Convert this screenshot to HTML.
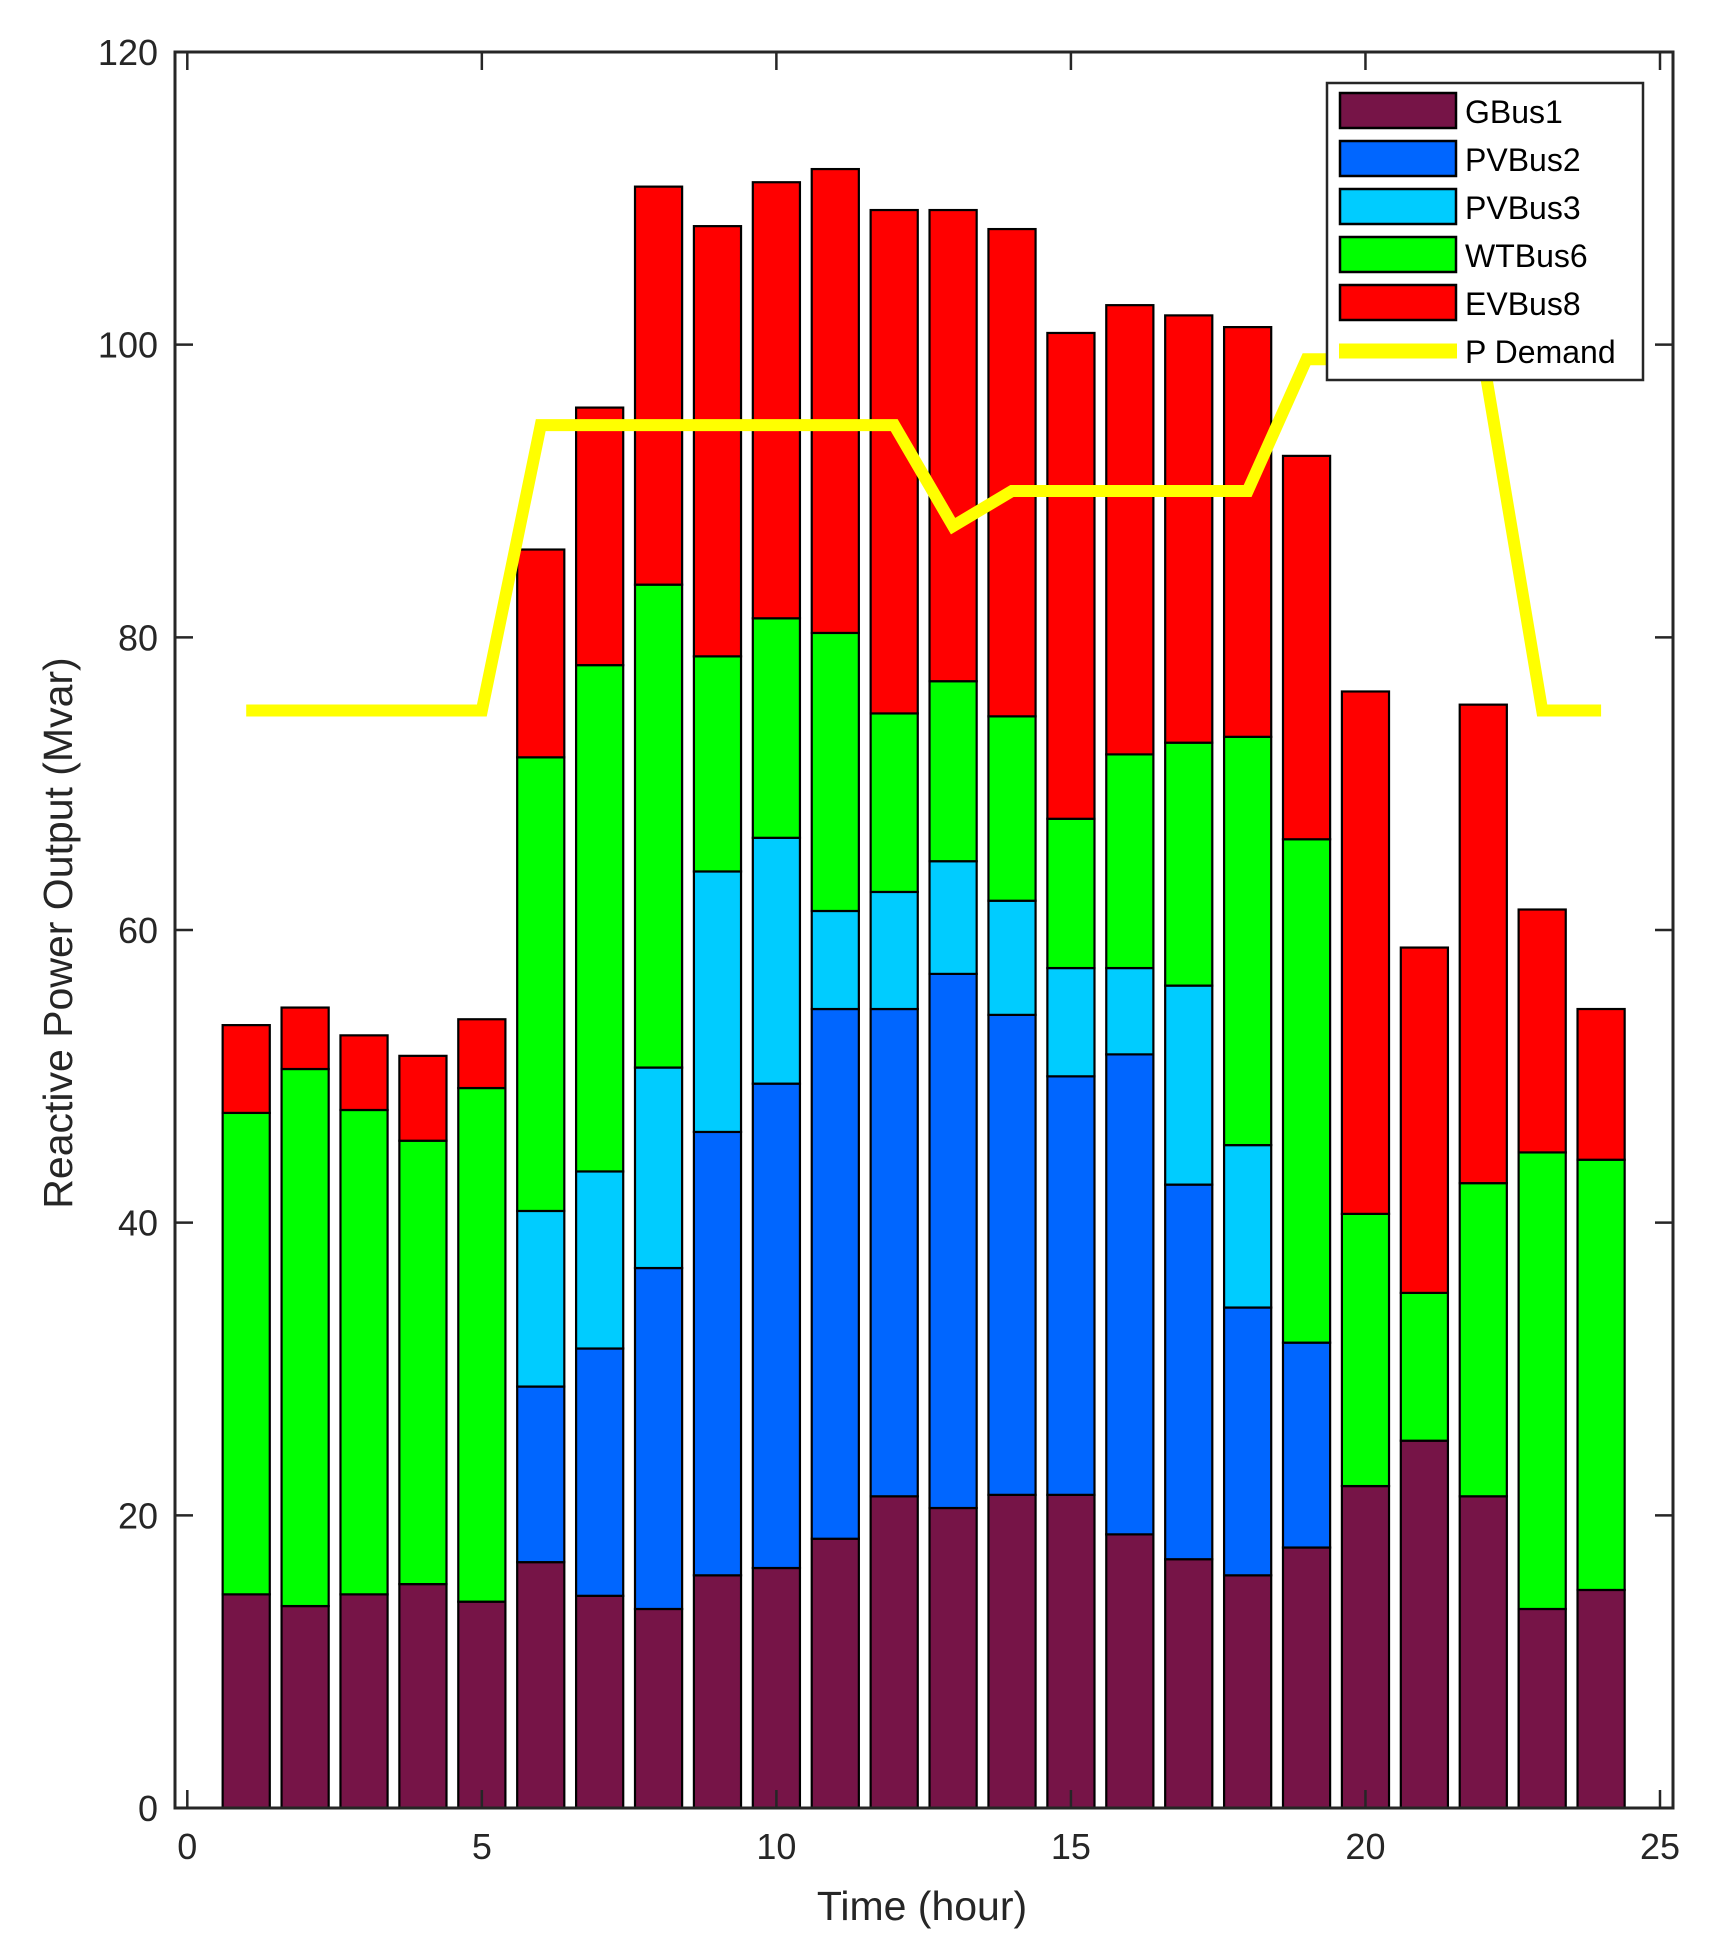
<!DOCTYPE html>
<html><head><meta charset="utf-8"><style>
html,body{margin:0;padding:0;background:#fff;}
svg{display:block;font-family:"Liberation Sans",Arial,sans-serif;}
</style></head><body>
<svg id="chart" width="1717" height="1949" viewBox="0 0 1717 1949" xmlns="http://www.w3.org/2000/svg">
<rect x="0" y="0" width="1717" height="1949" fill="#fff"/>
<g id="bars"></g>
<g id="line"></g>
<g id="axes"></g>
<g id="legend"></g>
</svg>
<script>
const hours = [1,2,3,4,5,6,7,8,9,10,11,12,13,14,15,16,17,18,19,20,21,22,23,24];
const gbus1 = [14.6,13.8,14.6,15.3,14.1,16.8,14.5,13.6,15.9,16.4,18.4,21.3,20.5,21.4,21.4,18.7,17.0,15.9,17.8,22.0,25.1,21.3,13.6,14.9];
const pvbus2 = [0,0,0,0,0,12.0,16.9,23.3,30.3,33.1,36.2,33.3,36.5,32.8,28.6,32.8,25.6,18.3,14.0,0,0,0,0,0];
const pvbus3 = [0,0,0,0,0,12.0,12.1,13.7,17.8,16.8,6.7,8.0,7.7,7.8,7.4,5.9,13.6,11.1,0,0,0,0,0,0];
const wtbus6 = [32.9,36.7,33.1,30.3,35.1,31.0,34.6,33.0,14.7,15.0,19.0,12.2,12.3,12.6,10.2,14.6,16.6,27.9,34.4,18.6,10.1,21.4,31.2,29.4];
const evbus8 = [6.0,4.2,5.1,5.8,4.7,14.2,17.6,27.2,29.4,29.8,31.7,34.4,32.2,33.3,33.2,30.7,29.2,28.0,26.2,35.7,23.6,32.7,16.6,10.3];
const demand = [75,75,75,75,75,94.5,94.5,94.5,94.5,94.5,94.5,94.5,87.6,90,90,90,90,90,99,99,99,99,75,75];
const seriesNames = ["GBus1","PVBus2","PVBus3","WTBus6","EVBus8"];
const seriesColors = ["#761447","#0066ff","#00ccff","#00ff00","#ff0000"];
const xTicks = [0,5,10,15,20,25];
const yTicks = [0,20,40,60,80,100,120];

const NS="http://www.w3.org/2000/svg";
const L=175,R=1673,T=52,B=1808;
const X0=187.3, XU=(1660-187.3)/25;
function sx(v){return X0+v*XU;}
function sy(v){return B-(v/120)*(B-T);}
function mk(tag,attrs,parent){const e=document.createElementNS(NS,tag);for(const k in attrs)e.setAttribute(k,attrs[k]);parent.appendChild(e);return e;}

const barsG=document.getElementById('bars');
const series=[gbus1,pvbus2,pvbus3,wtbus6,evbus8];
const bw=0.8*XU;
hours.forEach((h,i)=>{
  let base=0;
  series.forEach((s,k)=>{
    const v=s[i];
    if(v>0){
      const r=mk('rect',{x:sx(h)-bw/2,y:sy(base+v),width:bw,height:sy(base)-sy(base+v),fill:seriesColors[k],stroke:'#000','stroke-width':2.2},barsG);
      
      
    }
    base+=v;
  });
});

const lineG=document.getElementById('line');
const pts=hours.map((h,i)=>sx(h)+','+sy(demand[i])).join(' ');
const pl=mk('polyline',{points:pts,fill:'none',stroke:'#ffff00','stroke-width':12,'stroke-linejoin':'miter'},lineG);



const ax=document.getElementById('axes');
mk('rect',{x:L,y:T,width:R-L,height:B-T,fill:'none',stroke:'#262626','stroke-width':3},ax);
xTicks.forEach(t=>{
  const x=sx(t);
  mk('line',{x1:x,y1:B,x2:x,y2:B-18,stroke:'#262626','stroke-width':2.5},ax);
  mk('line',{x1:x,y1:T,x2:x,y2:T+18,stroke:'#262626','stroke-width':2.5},ax);
  const tx=mk('text',{x:x,y:B+51,'font-size':36,'text-anchor':'middle',fill:'#262626'},ax);
  tx.textContent=t;
  
  
});
yTicks.forEach(t=>{
  const y=sy(t);
  mk('line',{x1:L,y1:y,x2:L+18,y2:y,stroke:'#262626','stroke-width':2.5},ax);
  mk('line',{x1:R,y1:y,x2:R-18,y2:y,stroke:'#262626','stroke-width':2.5},ax);
  const tx=mk('text',{x:L-17,y:y+13,'font-size':36,'text-anchor':'end',fill:'#262626'},ax);
  tx.textContent=t;
  
  
});
const xt=mk('text',{x:922,y:1920,'font-size':41,'text-anchor':'middle',fill:'#262626'},ax);
xt.textContent='Time (hour)';


const yt=mk('text',{x:0,y:0,'font-size':41,'text-anchor':'middle',fill:'#262626',transform:'translate(72,933) rotate(-90)'},ax);
yt.textContent='Reactive Power Output (Mvar)';



const lg=document.getElementById('legend');
mk('rect',{x:1327,y:83,width:316,height:297,fill:'#fff',stroke:'#262626','stroke-width':2.5},lg);
const names=seriesNames.concat(['P Demand']);
names.forEach((n,i)=>{
  const y=93+i*48;
  const g=mk('g',{},lg);
  
  
  if(i<5){
    mk('rect',{x:1340,y:y,width:116,height:35,fill:seriesColors[i],stroke:'#000','stroke-width':2.5},g);
  } else {
    mk('line',{x1:1339,y1:y+18,x2:1457,y2:y+18,stroke:'#ffff00','stroke-width':15},g);
  }
  const t=mk('text',{x:1465,y:y+30,'font-size':32,fill:'#000'},g);
  t.textContent=n;
});
</script>
</body></html>
